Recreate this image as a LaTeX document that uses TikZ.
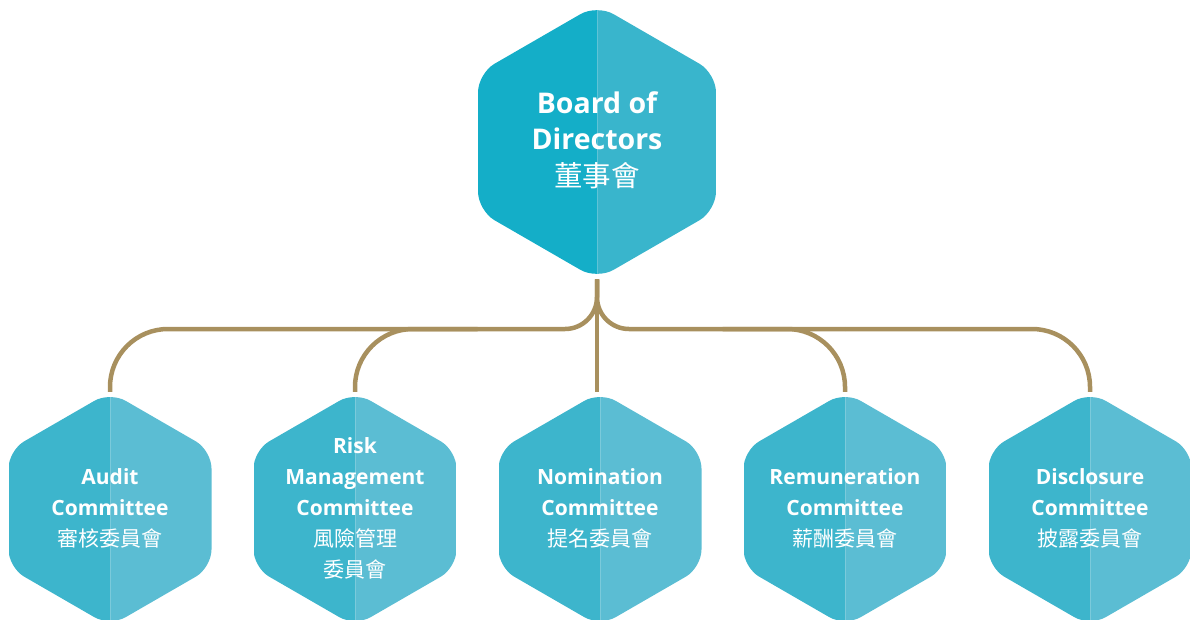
\documentclass[tikz,border=0pt]{standalone}
\usepackage{fontspec}
\setmainfont{Open Sans}
\newfontfamily\cjk{Noto Sans CJK TC}
\usetikzlibrary{shapes.geometric,backgrounds,calc}
\definecolor{topL}{HTML}{14AEC8}
\definecolor{topR}{HTML}{39B5CC}
\definecolor{botL}{HTML}{3DB5CC}
\definecolor{botR}{HTML}{5BBDD3}
\definecolor{gold}{HTML}{A8905E}
\tikzset{
  hexshape/.style n args={4}{regular polygon, regular polygon sides=6,
    regular polygon rotate=30, minimum size=#3, inner sep=0pt, outer sep=0pt,
    rounded corners=#4, draw=none,
    path picture={
      \fill[#1,sharp corners] (path picture bounding box.south west) rectangle (path picture bounding box.north);
      \fill[#2,sharp corners] (path picture bounding box.north) rectangle (path picture bounding box.south east);
      \draw[white,opacity=.2,line width=.8pt,sharp corners] (path picture bounding box.north) -- (path picture bounding box.south);
    }},
  bighex/.style={hexshape={topL}{topR}{274.8pt}{19pt}},
  smallhex/.style={hexshape={botL}{botR}{234.4pt}{18pt}},
  bigtext/.style={text=white, align=center, inner sep=0pt,
    font=\fontsize{28.5}{36.5}\selectfont\bfseries},
  smalltext/.style={text=white, align=center, inner sep=0pt,
    font=\fontsize{21}{31}\selectfont\bfseries},
  conn/.style={draw=gold, line width=4.5pt},
}
\begin{document}
\begin{tikzpicture}[x=1pt,y=-1pt]
\useasboundingbox (0,0) rectangle (1190,619);
\clip (0,0) rectangle (1190,619);

\node[bighex] (board) at (597,142) {};
\node[bigtext] (boardt) at (597,140) {Board of\\Directors\\{\cjk\mdseries 董事會}};

\node[smallhex] (aud) at (110,509) {};
\node[smallhex] (risk) at (355,509) {};
\node[smallhex] (nom) at (600,509) {};
\node[smallhex] (rem) at (845,509) {};
\node[smallhex] (dis) at (1090,509) {};

\node[smalltext] (audt) at (110,508) {Audit\\Committee\\{\cjk\mdseries 審核委員會}};
\node[smalltext] (riskt) at (355,508) {Risk\\Management\\Committee\\{\cjk\mdseries 風險管理}\\{\cjk\mdseries 委員會}};
\node[smalltext] (nomt) at (600,508) {Nomination\\Committee\\{\cjk\mdseries 提名委員會}};
\node[smalltext] (remt) at (845,508) {Remuneration\\Committee\\{\cjk\mdseries 薪酬委員會}};
\node[smalltext] (dist) at (1090,508) {Disclosure\\Committee\\{\cjk\mdseries 披露委員會}};

\coordinate (hl) at (597,329);

\begin{scope}[on background layer]
  \draw[conn] (board.south) [rounded corners=32pt] -- (board.south |- hl) -- (risk.north |- hl);
  \draw[conn] (board.south) [rounded corners=32pt] -- (board.south |- hl) -- (rem.north |- hl);
  \draw[conn] (board.south) -- (board.south |- nom.north);
  \draw[conn] (aud.north) [rounded corners=58pt] -- (aud.north |- hl) -- (risk.north |- hl);
  \draw[conn] (risk.north) [rounded corners=58pt] -- (risk.north |- hl) -- ($(risk.north |- hl)!0.5!(nom.north |- hl)$);
  \draw[conn] (rem.north) [rounded corners=58pt] -- (rem.north |- hl) -- ($(rem.north |- hl)!0.5!(nom.north |- hl)$);
  \draw[conn] (dis.north) [rounded corners=58pt] -- (dis.north |- hl) -- (rem.north |- hl);
\end{scope}
\end{tikzpicture}
\end{document}
